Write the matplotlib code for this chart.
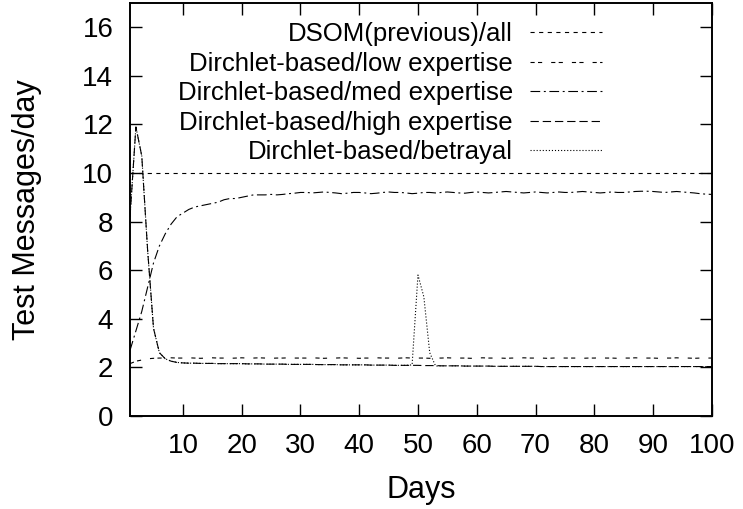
import matplotlib
matplotlib.use("Agg")
import matplotlib.pyplot as plt

days = list(range(1, 101))

dsom_all = [10.0] * 100

low_expertise = [2.15, 2.25, 2.3, 2.35, 2.37, 2.38, 2.38, 2.39, 2.38, 2.38,
                 2.39, 2.38, 2.37, 2.38, 2.39, 2.38, 2.38, 2.37, 2.38, 2.39,
                 2.38, 2.38, 2.39, 2.38, 2.37, 2.38, 2.38, 2.39, 2.38, 2.38,
                 2.38, 2.39, 2.38, 2.37, 2.38, 2.38, 2.39, 2.38, 2.38, 2.37,
                 2.38, 2.38, 2.39, 2.38, 2.38, 2.37, 2.38, 2.39, 2.38, 2.38,
                 2.38, 2.37, 2.38, 2.38, 2.39, 2.38, 2.38, 2.38, 2.37, 2.38,
                 2.39, 2.38, 2.38, 2.38, 2.37, 2.38, 2.38, 2.39, 2.38, 2.38,
                 2.38, 2.37, 2.38, 2.39, 2.38, 2.38, 2.38, 2.37, 2.38, 2.38,
                 2.39, 2.38, 2.38, 2.37, 2.38, 2.38, 2.39, 2.38, 2.38, 2.38,
                 2.37, 2.38, 2.38, 2.39, 2.38, 2.38, 2.37, 2.38, 2.38, 2.38]

med_expertise = [2.7, 3.5, 4.3, 5.3, 6.3, 7.0, 7.5, 7.9, 8.2, 8.35,
                 8.5, 8.6, 8.65, 8.7, 8.75, 8.8, 8.9, 8.95, 8.95, 9.0,
                 9.05, 9.1, 9.1, 9.1, 9.12, 9.1, 9.12, 9.15, 9.17, 9.2,
                 9.2, 9.18, 9.2, 9.22, 9.2, 9.18, 9.15, 9.17, 9.2, 9.2,
                 9.18, 9.15, 9.17, 9.2, 9.22, 9.2, 9.2, 9.18, 9.15, 9.17,
                 9.2, 9.2, 9.18, 9.2, 9.22, 9.2, 9.18, 9.17, 9.2, 9.22,
                 9.2, 9.18, 9.2, 9.22, 9.24, 9.22, 9.2, 9.18, 9.2, 9.22,
                 9.2, 9.18, 9.2, 9.22, 9.2, 9.2, 9.22, 9.24, 9.22, 9.2,
                 9.18, 9.2, 9.22, 9.2, 9.2, 9.22, 9.24, 9.25, 9.25, 9.24,
                 9.22, 9.2, 9.22, 9.24, 9.22, 9.2, 9.18, 9.15, 9.13, 9.12]

high_expertise = [8.2, 11.9, 10.7, 6.8, 3.6, 2.6, 2.35, 2.25, 2.2, 2.18,
                  2.17, 2.17, 2.16, 2.16, 2.16, 2.15, 2.15, 2.15, 2.15, 2.15,
                  2.14, 2.14, 2.14, 2.13, 2.13, 2.13, 2.13, 2.12, 2.12, 2.12,
                  2.12, 2.12, 2.11, 2.11, 2.11, 2.11, 2.1, 2.1, 2.1, 2.1,
                  2.1, 2.09, 2.09, 2.09, 2.09, 2.08, 2.08, 2.08, 2.08, 2.08,
                  2.07, 2.07, 2.07, 2.06, 2.06, 2.06, 2.06, 2.05, 2.05, 2.05,
                  2.05, 2.05, 2.04, 2.04, 2.04, 2.04, 2.04, 2.04, 2.04, 2.04,
                  2.03, 2.03, 2.03, 2.03, 2.03, 2.03, 2.03, 2.03, 2.03, 2.03,
                  2.03, 2.03, 2.03, 2.03, 2.03, 2.03, 2.03, 2.03, 2.03, 2.03,
                  2.03, 2.03, 2.03, 2.03, 2.03, 2.03, 2.03, 2.03, 2.03, 2.03]

betrayal = list(high_expertise)
betrayal[48:53] = [2.1, 5.8, 4.9, 2.6, 2.05]

labels = ["DSOM(previous)/all", "Dirchlet-based/low expertise",
          "Dirchlet-based/med expertise", "Dirchlet-based/high expertise",
          "Dirchlet-based/betrayal"]

plt.rcParams["font.family"] = ["Liberation Sans", "DejaVu Sans"]
plt.rcParams["lines.scale_dashes"] = False

fig = plt.figure(figsize=(7.43, 5.09), dpi=100)
ax = fig.add_axes([0.175, 0.183, 0.783, 0.811])

lw = 0.8
ax.plot(days, dsom_all, color="black", lw=lw, linestyle=(0, (3.0, 3.2)), label=labels[0])
ax.plot(days, low_expertise, color="black", lw=lw, linestyle=(0, (3.0, 2.4, 3.0, 6.5)), label=labels[1])
ax.plot(days, med_expertise, color="black", lw=lw, linestyle=(0, (7.0, 2.6, 1.4, 2.6)), label=labels[2])
ax.plot(days, high_expertise, color="black", lw=lw, linestyle=(0, (6.0, 2.8)), label=labels[3])
ax.plot(days, betrayal, color="black", lw=lw, linestyle=(0, (0.8, 1.4)), label=labels[4])

ax.set_xlim(1, 100)
ax.set_ylim(0, 17)
ax.set_xticks(range(10, 101, 10))
ax.set_yticks(range(0, 17, 2))
ax.tick_params(direction="in", length=8.5, width=1.0, top=True, right=True,
               labelsize=20, pad=12)
for s in ax.spines.values():
    s.set_linewidth(1.4)

ax.set_xlabel("Days", fontsize=22, labelpad=12)
ax.set_ylabel("Test Messages/day", fontsize=22, labelpad=29)

ax.legend(loc="upper right", bbox_to_anchor=(0.811, 0.953), frameon=False,
          markerfirst=False, fontsize=18.5, handlelength=2.8, handletextpad=0.66,
          labelspacing=0.21, borderpad=0, borderaxespad=0)

fig.savefig("out.png", dpi=100)
